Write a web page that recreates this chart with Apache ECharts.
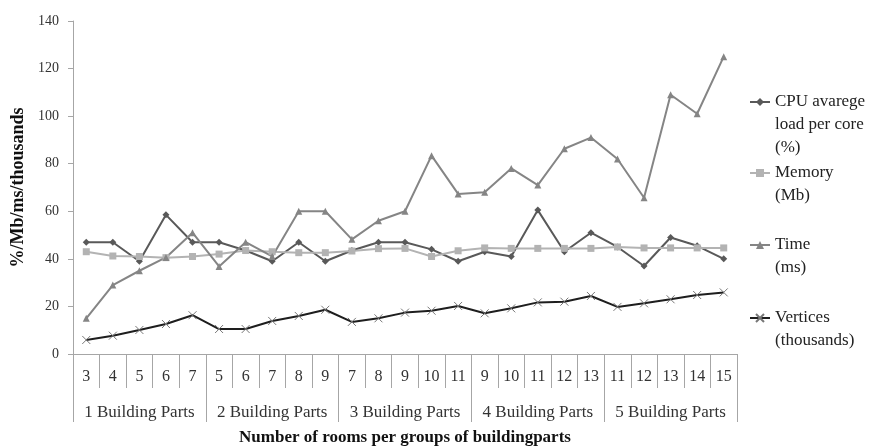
<!DOCTYPE html>
<html>
<head>
<meta charset="utf-8">
<script src="https://cdn.jsdelivr.net/npm/echarts@6/dist/echarts.min.js"></script>
<style>
  html, body { margin: 0; padding: 0; background: #fff; }
  #main { width: 870px; height: 446px; }
</style>
</head>
<body>
<div id="main"></div>
<script>
// rooms per group (x axis, first row)
var rooms = ['3', '4', '5', '6', '7', '5', '6', '7', '8', '9', '7', '8', '9', '10', '11',
             '9', '10', '11', '12', '13', '11', '12', '13', '14', '15'];
// building part groups (second row)
var groups = ['1 Building Parts', '2 Building Parts', '3 Building Parts', '4 Building Parts', '5 Building Parts'];

var cpuLoad = [47, 47, 39, 58.5, 47, 47, 43.5, 39, 47, 39, 43.5, 47, 47, 44, 39,
               43, 41, 60.5, 43, 51, 45, 37, 49, 45.5, 40];
var memory = [43, 41.2, 41, 40.5, 41, 42, 43.5, 43, 42.6, 42.6, 43.3, 44.3, 44.4, 41, 43.4,
              44.6, 44.4, 44.4, 44.4, 44.4, 45, 44.6, 44.6, 44.6, 44.6];
var time = [15, 29, 35, 40.6, 51, 36.8, 47, 41, 60, 60, 48.2, 56, 60, 83.4, 67.3,
            68, 78, 71, 86.3, 91, 82, 65.7, 109, 101, 125];
var vertices = [5.9, 7.7, 10.1, 12.6, 16.3, 10.5, 10.5, 13.9, 16, 18.6, 13.5, 15, 17.4, 18.2, 20.2,
                17.1, 19.2, 21.7, 22, 24.4, 19.8, 21.3, 23, 24.8, 25.9];

var serif = '"Liberation Serif", "DejaVu Serif", serif';
var axisGray = '#a6a6a6';
var LH = 23;

var chart = echarts.init(document.getElementById('main'));

// one legend per series so the icon sits on the first text line
function legendFor(name, lines, iconY) {
  var blanks = new Array(lines).join('\n');
  var total = (lines - 1) * 2 + 1;
  return {
    top: iconY - total * LH / 2,
    left: 749,
    orient: 'vertical',
    padding: 0,
    itemWidth: 20,
    itemHeight: 10,
    formatter: function (n) { return blanks + n; },
    data: [name],
    textStyle: { fontFamily: serif, fontSize: 17, color: '#222', lineHeight: LH }
  };
}

chart.setOption({
  animation: false,
  grid: { left: 73, right: 133, top: 21, bottom: 92, outerBoundsMode: 'none', containLabel: false },
  legend: [
    legendFor('CPU avarege\nload per core\n(%)', 3, 102),
    legendFor('Memory\n(Mb)', 2, 173),
    legendFor('Time\n(ms)', 2, 245),
    legendFor('Vertices\n(thousands)', 2, 318)
  ],
  xAxis: [
    {
      type: 'category',
      data: rooms,
      position: 'bottom',
      boundaryGap: true,
      axisLine: { lineStyle: { color: axisGray, width: 1 } },
      axisTick: { show: true, interval: 0, length: 34, lineStyle: { color: axisGray } },
      axisLabel: { interval: 0, margin: 15, fontFamily: serif, fontSize: 16, color: '#333' }
    },
    {
      type: 'category',
      data: groups,
      position: 'bottom',
      boundaryGap: true,
      axisLine: { show: false },
      axisTick: { show: true, interval: 0, length: 68, lineStyle: { color: axisGray } },
      axisLabel: { interval: 0, margin: 50, fontFamily: serif, fontSize: 17, color: '#333' },
      name: 'Number of rooms per groups of buildingparts',
      nameLocation: 'middle',
      nameGap: 75,
      nameTextStyle: { fontFamily: serif, fontSize: 17, fontWeight: 'bold', color: '#111' }
    }
  ],
  yAxis: {
    type: 'value',
    min: 0,
    max: 140,
    interval: 20,
    splitLine: { show: false },
    axisLine: { show: true, lineStyle: { color: axisGray } },
    axisTick: { show: true, length: 5, lineStyle: { color: axisGray } },
    axisLabel: { margin: 14, fontFamily: serif, fontSize: 14, color: '#333' },
    name: '%/Mb/ms/thousands',
    nameLocation: 'middle',
    nameGap: 42,
    nameTextStyle: { fontFamily: serif, fontSize: 18, fontWeight: 'bold', color: '#111' }
  },
  series: [
    {
      name: 'CPU avarege\nload per core\n(%)',
      type: 'line',
      data: cpuLoad,
      symbol: 'diamond',
      symbolSize: 7,
      showAllSymbol: true,
      color: '#595959',
      lineStyle: { width: 2 }
    },
    {
      name: 'Memory\n(Mb)',
      type: 'line',
      data: memory,
      symbol: 'rect',
      symbolSize: 7,
      color: '#b3b3b3',
      lineStyle: { width: 2 }
    },
    {
      name: 'Time\n(ms)',
      type: 'line',
      data: time,
      symbol: 'triangle',
      symbolSize: 7,
      color: '#858585',
      lineStyle: { width: 2 }
    },
    {
      name: 'Vertices\n(thousands)',
      type: 'line',
      data: vertices,
      symbol: 'path://M0,0L10,10M10,0L0,10',
      symbolSize: 8,
      color: '#1e1e1e',
      itemStyle: { borderColor: '#777', borderWidth: 1 },
      lineStyle: { width: 2 }
    }
  ]
});
</script>
</body>
</html>
